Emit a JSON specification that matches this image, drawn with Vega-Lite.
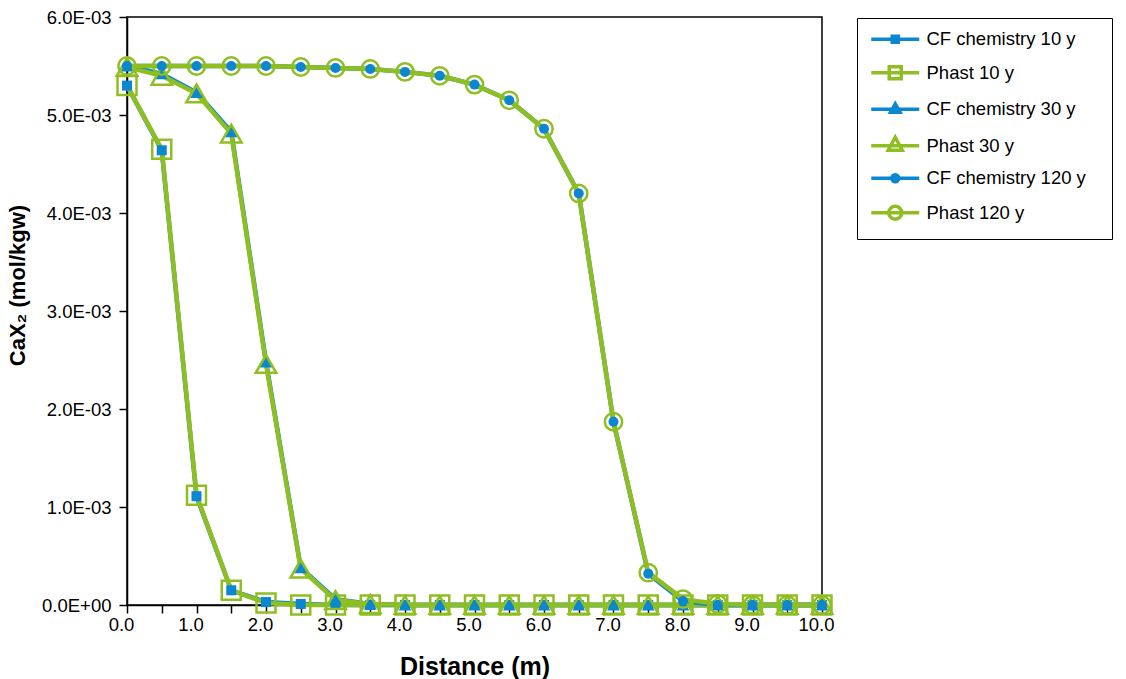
{
  "$schema": "https://vega.github.io/schema/vega-lite/v6.json",
  "width": 695,
  "height": 588,
  "autosize": {"type": "none"},
  "padding": {"left": 127, "top": 17, "right": 304, "bottom": 74},
  "background": "white",
  "config": {
    "font": "Liberation Sans",
    "view": {"stroke": "black", "strokeWidth": 1.5},
    "axis": {"grid": false, "domainColor": "black", "domainWidth": 1.5, "tickColor": "black", "tickWidth": 1.5, "labelColor": "black", "titleColor": "black", "labelFont": "Liberation Sans", "titleFont": "Liberation Sans"}
  },
  "data": {"values": [
    {"s":"CF chemistry 10 y","x":0,"y":0.00530},{"s":"CF chemistry 10 y","x":0.5,"y":0.00464},{"s":"CF chemistry 10 y","x":1,"y":0.00111},{"s":"CF chemistry 10 y","x":1.5,"y":0.00015},{"s":"CF chemistry 10 y","x":2,"y":0.00003},{"s":"CF chemistry 10 y","x":2.5,"y":0.00001},{"s":"CF chemistry 10 y","x":3,"y":0},{"s":"CF chemistry 10 y","x":3.5,"y":0},{"s":"CF chemistry 10 y","x":4,"y":0},{"s":"CF chemistry 10 y","x":4.5,"y":0},{"s":"CF chemistry 10 y","x":5,"y":0},{"s":"CF chemistry 10 y","x":5.5,"y":0},{"s":"CF chemistry 10 y","x":6,"y":0},{"s":"CF chemistry 10 y","x":6.5,"y":0},{"s":"CF chemistry 10 y","x":7,"y":0},{"s":"CF chemistry 10 y","x":7.5,"y":0},{"s":"CF chemistry 10 y","x":8,"y":0},{"s":"CF chemistry 10 y","x":8.5,"y":0},{"s":"CF chemistry 10 y","x":9,"y":0},{"s":"CF chemistry 10 y","x":9.5,"y":0},{"s":"CF chemistry 10 y","x":10,"y":0},
    {"s":"Phast 10 y","x":0,"y":0.00530},{"s":"Phast 10 y","x":0.5,"y":0.00465},{"s":"Phast 10 y","x":1,"y":0.00112},{"s":"Phast 10 y","x":1.5,"y":0.00015},{"s":"Phast 10 y","x":2,"y":0.00002},{"s":"Phast 10 y","x":2.5,"y":0},{"s":"Phast 10 y","x":3,"y":0},{"s":"Phast 10 y","x":3.5,"y":0},{"s":"Phast 10 y","x":4,"y":0},{"s":"Phast 10 y","x":4.5,"y":0},{"s":"Phast 10 y","x":5,"y":0},{"s":"Phast 10 y","x":5.5,"y":0},{"s":"Phast 10 y","x":6,"y":0},{"s":"Phast 10 y","x":6.5,"y":0},{"s":"Phast 10 y","x":7,"y":0},{"s":"Phast 10 y","x":7.5,"y":0},{"s":"Phast 10 y","x":8,"y":0},{"s":"Phast 10 y","x":8.5,"y":0},{"s":"Phast 10 y","x":9,"y":0},{"s":"Phast 10 y","x":9.5,"y":0},{"s":"Phast 10 y","x":10,"y":0},
    {"s":"CF chemistry 30 y","x":0,"y":0.00550},{"s":"CF chemistry 30 y","x":0.5,"y":0.00542},{"s":"CF chemistry 30 y","x":1,"y":0.00523},{"s":"CF chemistry 30 y","x":1.5,"y":0.00483},{"s":"CF chemistry 30 y","x":2,"y":0.00248},{"s":"CF chemistry 30 y","x":2.5,"y":0.00038},{"s":"CF chemistry 30 y","x":3,"y":0.00006},{"s":"CF chemistry 30 y","x":3.5,"y":0.00001},{"s":"CF chemistry 30 y","x":4,"y":0},{"s":"CF chemistry 30 y","x":4.5,"y":0},{"s":"CF chemistry 30 y","x":5,"y":0},{"s":"CF chemistry 30 y","x":5.5,"y":0},{"s":"CF chemistry 30 y","x":6,"y":0},{"s":"CF chemistry 30 y","x":6.5,"y":0},{"s":"CF chemistry 30 y","x":7,"y":0},{"s":"CF chemistry 30 y","x":7.5,"y":0},{"s":"CF chemistry 30 y","x":8,"y":0},{"s":"CF chemistry 30 y","x":8.5,"y":0},{"s":"CF chemistry 30 y","x":9,"y":0},{"s":"CF chemistry 30 y","x":9.5,"y":0},{"s":"CF chemistry 30 y","x":10,"y":0},
    {"s":"Phast 30 y","x":0,"y":0.00549},{"s":"Phast 30 y","x":0.5,"y":0.00540},{"s":"Phast 30 y","x":1,"y":0.00522},{"s":"Phast 30 y","x":1.5,"y":0.00481},{"s":"Phast 30 y","x":2,"y":0.00246},{"s":"Phast 30 y","x":2.5,"y":0.00037},{"s":"Phast 30 y","x":3,"y":0.00005},{"s":"Phast 30 y","x":3.5,"y":0.00001},{"s":"Phast 30 y","x":4,"y":0},{"s":"Phast 30 y","x":4.5,"y":0},{"s":"Phast 30 y","x":5,"y":0},{"s":"Phast 30 y","x":5.5,"y":0},{"s":"Phast 30 y","x":6,"y":0},{"s":"Phast 30 y","x":6.5,"y":0},{"s":"Phast 30 y","x":7,"y":0},{"s":"Phast 30 y","x":7.5,"y":0},{"s":"Phast 30 y","x":8,"y":0},{"s":"Phast 30 y","x":8.5,"y":0},{"s":"Phast 30 y","x":9,"y":0},{"s":"Phast 30 y","x":9.5,"y":0},{"s":"Phast 30 y","x":10,"y":0},
    {"s":"CF chemistry 120 y","x":0,"y":0.00550},{"s":"CF chemistry 120 y","x":0.5,"y":0.00550},{"s":"CF chemistry 120 y","x":1,"y":0.00550},{"s":"CF chemistry 120 y","x":1.5,"y":0.00550},{"s":"CF chemistry 120 y","x":2,"y":0.00550},{"s":"CF chemistry 120 y","x":2.5,"y":0.00549},{"s":"CF chemistry 120 y","x":3,"y":0.00548},{"s":"CF chemistry 120 y","x":3.5,"y":0.00547},{"s":"CF chemistry 120 y","x":4,"y":0.00544},{"s":"CF chemistry 120 y","x":4.5,"y":0.00540},{"s":"CF chemistry 120 y","x":5,"y":0.00531},{"s":"CF chemistry 120 y","x":5.5,"y":0.00515},{"s":"CF chemistry 120 y","x":6,"y":0.00486},{"s":"CF chemistry 120 y","x":6.5,"y":0.00420},{"s":"CF chemistry 120 y","x":7,"y":0.00187},{"s":"CF chemistry 120 y","x":7.5,"y":0.00032},{"s":"CF chemistry 120 y","x":8,"y":0.00004},{"s":"CF chemistry 120 y","x":8.5,"y":0},{"s":"CF chemistry 120 y","x":9,"y":0},{"s":"CF chemistry 120 y","x":9.5,"y":0},{"s":"CF chemistry 120 y","x":10,"y":0},
    {"s":"Phast 120 y","x":0,"y":0.00550},{"s":"Phast 120 y","x":0.5,"y":0.00550},{"s":"Phast 120 y","x":1,"y":0.00550},{"s":"Phast 120 y","x":1.5,"y":0.00550},{"s":"Phast 120 y","x":2,"y":0.00550},{"s":"Phast 120 y","x":2.5,"y":0.00549},{"s":"Phast 120 y","x":3,"y":0.00548},{"s":"Phast 120 y","x":3.5,"y":0.00547},{"s":"Phast 120 y","x":4,"y":0.00544},{"s":"Phast 120 y","x":4.5,"y":0.00540},{"s":"Phast 120 y","x":5,"y":0.00531},{"s":"Phast 120 y","x":5.5,"y":0.00515},{"s":"Phast 120 y","x":6,"y":0.00486},{"s":"Phast 120 y","x":6.5,"y":0.00420},{"s":"Phast 120 y","x":7,"y":0.00187},{"s":"Phast 120 y","x":7.5,"y":0.00033},{"s":"Phast 120 y","x":8,"y":0.00006},{"s":"Phast 120 y","x":8.5,"y":0.00001},{"s":"Phast 120 y","x":9,"y":0},{"s":"Phast 120 y","x":9.5,"y":0},{"s":"Phast 120 y","x":10,"y":0}
  ]},
  "encoding": {
    "x": {"field": "x", "type": "quantitative", "scale": {"domain": [0, 10], "nice": false, "zero": false},
      "axis": {"title": "Distance (m)", "values": [0,0.5,1,1.5,2,2.5,3,3.5,4,4.5,5,5.5,6,6.5,7,7.5,8,8.5,9,9.5,10],
        "labelExpr": "datum.value % 1 === 0 ? format(datum.value, '.1f') : ''", "labelFontSize": 18.5, "labelOffset": -6, "tickSize": 8, "labelPadding": 2,
        "titleFontSize": 25, "titleFontWeight": "bold", "titlePadding": 21, "labelFlush": false, "labelOverlap": false}},
    "y": {"field": "y", "type": "quantitative", "scale": {"domain": [0, 0.006], "nice": false},
      "axis": {"title": "CaX₂ (mol/kgw)", "values": [0, 0.001, 0.002, 0.003, 0.004, 0.005, 0.006],
        "labelExpr": "datum.value === 0 ? '0.0E+00' : format(datum.value * 1000, '.1f') + 'E-03'", "labelFontSize": 18.5, "tickSize": 8, "labelPadding": 8,
        "titleFontSize": 22, "titleFontWeight": "bold", "titlePadding": 12, "titleY": 268, "labelFlush": false, "labelOverlap": false}}
  },
  "layer": [
    {
      "mark": {"type": "line", "strokeWidth": 4.5, "clip": false},
      "encoding": {
        "color": {"field": "s", "type": "nominal", "sort": null,
          "scale": {"domain": ["CF chemistry 10 y", "Phast 10 y", "CF chemistry 30 y", "Phast 30 y", "CF chemistry 120 y", "Phast 120 y"],
            "range": ["#0a87d0", "#8fbe22", "#0a87d0", "#8fbe22", "#0a87d0", "#8fbe22"]},
          "legend": {
            "title": null, "orient": "none", "legendX": 730, "legendY": 1,
            "strokeColor": "black", "fillColor": "white", "padding": 12,
            "labelFontSize": 18.5, "labelColor": "black", "labelLimit": 400, "symbolSize": 100, "rowPadding": 9.5, "symbolOffset": 17, "labelOffset": 22,
            "encode": {"symbols": {"update": {
              "shape": {"signal": "(datum.value === 'CF chemistry 10 y' ? 'M-4.8,0H4.8M-0.6,-0.6H0.6V0.6H-0.6Z' : datum.value === 'Phast 10 y' ? 'M-4.8,0H4.8M-1.2,-1.2H1.2V1.2H-1.2Z' : datum.value === 'CF chemistry 30 y' ? 'M-4.8,0H4.8M0,-1.1L0.95,0.6H-0.95Z' : datum.value === 'Phast 30 y' ? 'M-4.8,0H4.8M0,-1.7L1.4,0.9H-1.4Z' : datum.value === 'CF chemistry 120 y' ? 'M-4.8,0H4.8M-0.7,0A0.7,0.7 0 1,0 0.7,0A0.7,0.7 0 1,0 -0.7,0' : 'M-4.8,0H4.8M-1.3,0A1.3,1.3 0 1,0 1.3,0A1.3,1.3 0 1,0 -1.3,0') + 'M39.5,0'"},
              "fill": {"signal": "indexof(datum.value, 'CF') === 0 ? '#0a87d0' : 'transparent'"},
              "strokeWidth": {"value": 3.5},
              "opacity": {"value": 1}
            }}}
          }}
      }
    },
    {
      "transform": [{"filter": "datum.s === 'CF chemistry 10 y'"}],
      "mark": {"type": "point", "shape": "square", "size": 100, "filled": true, "color": "#0a87d0", "opacity": 1, "clip": false}
    },
    {
      "transform": [{"filter": "datum.s === 'Phast 10 y'"}],
      "mark": {"type": "point", "shape": "square", "size": 360, "filled": false, "fill": "transparent", "stroke": "#8fbe22", "strokeWidth": 2.5, "opacity": 1, "clip": false}
    },
    {
      "transform": [{"filter": "datum.s === 'CF chemistry 30 y'"}],
      "mark": {"type": "point", "shape": "triangle-up", "size": 160, "filled": true, "color": "#0a87d0", "opacity": 1, "clip": false}
    },
    {
      "transform": [{"filter": "datum.s === 'Phast 30 y'"}],
      "mark": {"type": "point", "shape": "triangle-up", "size": 420, "filled": false, "fill": "transparent", "stroke": "#8fbe22", "strokeWidth": 2.5, "opacity": 1, "clip": false}
    },
    {
      "transform": [{"filter": "datum.s === 'CF chemistry 120 y'"}],
      "mark": {"type": "point", "shape": "circle", "size": 100, "filled": true, "color": "#0a87d0", "opacity": 1, "clip": false}
    },
    {
      "transform": [{"filter": "datum.s === 'Phast 120 y'"}],
      "mark": {"type": "point", "shape": "circle", "size": 300, "filled": false, "fill": "transparent", "stroke": "#8fbe22", "strokeWidth": 2.5, "opacity": 1, "clip": false}
    }
  ]
}
